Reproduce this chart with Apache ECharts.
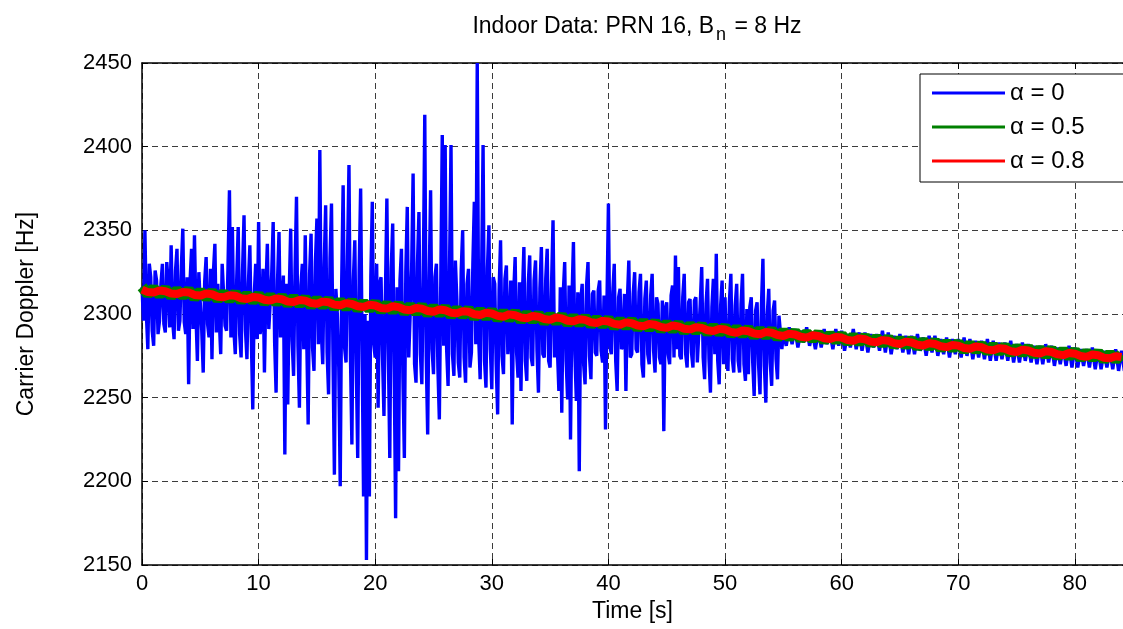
<!DOCTYPE html>
<html>
<head>
<meta charset="utf-8">
<script src="https://cdn.jsdelivr.net/npm/echarts@6/dist/echarts.min.js"></script>
<style>
html,body{margin:0;padding:0;background:#fff;}
#c{width:1123px;height:629px;}
</style>
</head>
<body>
<div id="c"></div>
<script>
// ---- data ----
const seriesNames = ['α = 0', 'α = 0.5', 'α = 0.8'];
const xTickValues = [0, 10, 20, 30, 40, 50, 60, 70, 80];
const yTickValues = [2150, 2200, 2250, 2300, 2350, 2400, 2450];

// alpha = 0, noisy part: sampled every 0.125 s from t = 0 to 54.875
const blueDenseStart = 0;
const blueDenseStep = 0.125;
const blueDenseValues = [
2316,2296,2350,2300,2279,2330,2322,2290, 2281,2326,2320,2288,2296,2318,2330,2294,
2289,2331,2318,2292,2341,2296,2285,2326, 2339,2290,2296,2328,2351,2295,2288,2322,
2258,2320,2339,2291,2347,2300,2272,2325, 2306,2290,2265,2319,2334,2294,2286,2327,
2273,2325,2342,2289,2318,2297,2276,2330, 2329,2293,2290,2328,2374,2286,2352,2291,
2276,2321,2352,2288,2274,2326,2359,2290, 2273,2318,2341,2286,2243,2311,2330,2285,
2355,2288,2294,2327,2265,2315,2342,2291, 2292,2324,2355,2283,2253,2320,2349,2286,
2285,2323,2216,2318,2246,2312,2351,2284, 2263,2326,2370,2281,2244,2317,2330,2279,
2347,2287,2234,2324,2348,2280,2266,2331, 2357,2282,2398,2290,2270,2329,2365,2277,
2252,2333,2366,2278,2204,2315,2300,2268, 2197,2318,2377,2280,2271,2334,2389,2276,
2222,2320,2344,2270,2214,2326,2375,2281, 2191,2300,2153,2296,2191,2322,2367,2282,
2274,2330,2244,2318,2322,2275,2239,2311, 2369,2279,2214,2327,2354,2270,2178,2316,
2206,2320,2339,2262,2214,2325,2364,2274, 2300,2327,2384,2270,2259,2330,2361,2276,
2258,2323,2419,2275,2228,2318,2374,2279, 2264,2322,2330,2268,2237,2320,2407,2281,
2401,2279,2257,2328,2401,2276,2263,2332, 2309,2271,2262,2326,2350,2274,2259,2318,
2327,2268,2277,2330,2367,2282,2450,2286, 2261,2324,2401,2272,2256,2327,2353,2279,
2255,2322,2318,2270,2240,2314,2344,2275, 2264,2321,2329,2276,2290,2320,2234,2312,
2334,2277,2262,2319,2254,2311,2340,2272, 2260,2318,2335,2274,2269,2320,2332,2278,
2253,2315,2340,2276,2274,2321,2339,2272, 2268,2318,2356,2274,2300,2279,2254,2316,
2241,2312,2331,2272,2249,2317,2225,2309, 2343,2276,2248,2313,2206,2308,2318,2270,
2258,2317,2331,2275,2261,2312,2314,2277, 2275,2314,2320,2278,2271,2311,2231,2306,
2366,2281,2276,2313,2330,2272,2254,2310, 2315,2279,2281,2312,2254,2308,2332,2274,
2276,2312,2325,2279,2277,2313,2324,2270, 2262,2309,2320,2276,2270,2311,2324,2278,
2265,2310,2306,2274,2270,2308,2230,2303, 2307,2276,2270,2311,2317,2274,2335,2279,
2328,2275,2273,2310,2324,2276,2268,2307, 2309,2277,2268,2308,2310,2271,2272,2306,
2328,2274,2261,2306,2321,2273,2253,2304, 2321,2276,2336,2272,2258,2305,2320,2270,
2310,2274,2266,2307,2324,2273,2265,2305, 2318,2272,2265,2306,2324,2270,2260,2303,
2264,2304,2310,2271,2251,2302,2307,2270, 2252,2305,2333,2269,2247,2300,2315,2271,
2257,2302,2308,2273,2261,2299,2298,2279
];

// alpha = 0, quiet part: sampled every 0.25 s from t = 55 to 84.25
const blueTailStart = 55;
const blueTailStep = 0.25;
const blueTailValues = [
2289,2281,2292,2282, 2291,2280,2290,2283, 2292,2281,2289,2279, 2290,2280,2291,2282,
2289,2279,2291,2281, 2290,2278,2288,2280, 2291,2279,2289,2278, 2289,2277,2288,2280,
2288,2278,2290,2277, 2289,2276,2287,2279, 2288,2277,2287,2276, 2287,2276,2288,2278,
2286,2275,2287,2277, 2287,2275,2285,2276, 2286,2274,2285,2276, 2285,2274,2286,2275,
2285,2273,2284,2274, 2284,2273,2285,2272, 2284,2272,2283,2273, 2283,2272,2284,2271,
2282,2271,2283,2272, 2282,2271,2281,2270, 2281,2270,2282,2271, 2281,2269,2280,2270,
2280,2269,2281,2268, 2280,2268,2279,2269, 2279,2268,2280,2267, 2279,2267,2278,2268,
2278,2267,2279,2266, 2278,2266
];

// alpha = 0.5 : sampled every 0.5 s from t = 0
const smoothStep = 0.5;
const greenValues = [
2316.3,2311.9, 2315.2,2311.6, 2315.0,2310.8, 2314.1,2310.9, 2314.3,2309.8, 2313.4,2309.9,
2313.2,2308.8, 2312.5,2308.6, 2312.4,2307.9, 2311.5,2307.9, 2311.4,2306.9, 2310.6,2306.8,
2310.3,2305.9, 2309.7,2305.8, 2309.4,2304.9, 2308.6,2305.0, 2308.5,2303.9, 2307.7,2303.9,
2307.5,2303.0, 2306.7,2303.0, 2306.6,2302.0, 2305.8,2301.9, 2305.6,2301.1, 2304.8,2301.0,
2304.7,2300.1, 2303.8,2300.2, 2303.7,2299.1, 2302.9,2299.2, 2302.8,2298.1, 2301.9,2298.2,
2301.8,2297.2, 2300.9,2297.3, 2300.8,2296.2, 2300.0,2296.3, 2299.8,2295.3, 2299.0,2295.4,
2298.9,2294.4, 2298.1,2294.4, 2297.9,2293.5, 2297.1,2293.5, 2297.0,2292.5, 2296.1,2292.6,
2296.0,2291.6, 2295.2,2291.6, 2295.0,2290.7, 2294.2,2290.7, 2294.1,2289.7, 2293.3,2289.8,
2293.1,2288.8, 2292.3,2288.8, 2292.2,2287.8, 2291.4,2287.9, 2291.2,2286.9, 2290.4,2286.9,
2290.3,2285.9, 2289.5,2286.0, 2289.3,2285.0, 2288.5,2285.0, 2288.4,2284.0, 2287.6,2284.1,
2287.4,2283.1, 2286.6,2283.1, 2286.5,2282.1, 2285.7,2282.2, 2285.5,2281.2, 2284.7,2281.2,
2284.6,2280.2, 2283.8,2280.3, 2283.6,2279.3, 2282.8,2279.3, 2282.7,2278.3, 2281.9,2278.4,
2281.7,2277.4, 2280.9,2277.4, 2280.8,2276.4, 2280.0,2276.5, 2279.8,2275.5, 2279.0,2275.5,
2278.9,2274.5, 2278.1,2274.6, 2277.9,2273.6, 2277.1,2273.6, 2277.0,2272.6, 2276.2,2272.7,
2276.0
];

// alpha = 0.8 : sampled every 0.5 s from t = 0
const redValues = [
2314.6,2313.1, 2312.8,2314.0, 2313.6,2312.2, 2312.0,2313.1, 2312.9,2311.4, 2311.0,2312.2,
2311.8,2310.3, 2310.0,2311.2, 2310.9,2309.4, 2309.0,2310.1, 2309.9,2308.5, 2308.0,2309.3,
2308.8,2307.4, 2307.1,2308.4, 2308.0,2306.6, 2306.1,2307.4, 2307.0,2305.6, 2305.2,2306.5,
2306.0,2304.6, 2304.2,2305.5, 2305.1,2303.6, 2303.2,2304.6, 2304.1,2302.7, 2302.3,2303.6,
2303.2,2301.8, 2301.3,2302.7, 2302.2,2300.8, 2300.4,2301.6, 2301.3,2299.9, 2299.4,2300.7,
2300.3,2298.9, 2298.4,2299.8, 2299.3,2297.9, 2297.5,2298.8, 2298.4,2297.0, 2296.5,2297.9,
2297.4,2296.0, 2295.6,2296.9, 2296.5,2295.1, 2294.6,2295.9, 2295.5,2294.1, 2293.6,2295.0,
2294.5,2293.1, 2292.7,2294.0, 2293.6,2292.2, 2291.7,2293.1, 2292.6,2291.2, 2290.8,2292.1,
2291.7,2290.3, 2289.8,2291.1, 2290.7,2289.3, 2288.8,2290.1, 2289.7,2288.3, 2287.9,2289.2,
2288.8,2287.4, 2286.9,2288.2, 2287.8,2286.4, 2285.9,2287.3, 2286.9,2285.5, 2285.0,2286.3,
2285.9,2284.5, 2284.0,2285.4, 2284.9,2283.5, 2283.1,2284.4, 2284.0,2282.6, 2282.1,2283.5,
2283.0,2281.6, 2281.2,2282.5, 2282.1,2280.7, 2280.2,2281.5, 2281.1,2279.7, 2279.2,2280.6,
2280.1,2278.7, 2278.3,2279.6, 2279.2,2277.8, 2277.3,2278.7, 2278.2,2276.8, 2276.4,2277.7,
2277.3,2275.9, 2275.4,2276.7, 2276.3,2274.9, 2274.4,2275.8, 2275.3,2273.9, 2273.5,2274.8,
2274.3
];

// ---- chart ----
const toPairs = (vals, start, step) => vals.map((v, i) => [start + i * step, v]);
const blueData = toPairs(blueDenseValues, blueDenseStart, blueDenseStep)
  .concat(toPairs(blueTailValues, blueTailStart, blueTailStep));

const FONT = '"Liberation Sans", Arial, Helvetica, sans-serif';
const chart = echarts.init(document.getElementById('c'), null, {renderer: 'canvas'});

const gridLine = {show: true, lineStyle: {color: '#3c3c3c', width: 1, type: [6, 4]}};

chart.setOption({
  animation: false,
  backgroundColor: '#fff',
  textStyle: {fontFamily: FONT},
  title: {
    text: '{a|Indoor Data: PRN 16, B}{s|n}{a| = 8 Hz}',
    left: 632,
    top: 8,
    textAlign: 'center',
    textStyle: {
      fontWeight: 'normal',
      rich: {
        a: {fontFamily: FONT, fontSize: 23, fontWeight: 'normal', color: '#000', lineHeight: 28},
        s: {fontFamily: FONT, fontSize: 18, fontWeight: 'normal', color: '#000', padding: [16, 2, 0, 2], lineHeight: 28}
      }
    }
  },
  legend: {
    data: seriesNames,
    orient: 'vertical',
    left: 920,
    top: 74,
    icon: 'rect',
    itemWidth: 73,
    itemHeight: 3,
    itemGap: 8,
    padding: [6, 40, 8, 12],
    backgroundColor: '#fff',
    borderColor: '#000',
    borderWidth: 1,
    borderRadius: 0,
    textStyle: {fontFamily: FONT, fontSize: 24, color: '#000', lineHeight: 26}
  },
  grid: {left: 142, right: 0, top: 63, bottom: 64, containLabel: false},
  xAxis: [{
    type: 'value',
    min: 0,
    max: 84.13,
    interval: 10,
    position: 'bottom',
    name: 'Time [s]',
    nameLocation: 'middle',
    nameGap: 30,
    nameTextStyle: {fontFamily: FONT, fontSize: 23, color: '#000'},
    axisLine: {show: true, onZero: false, lineStyle: {color: '#000', width: 1.5}},
    axisTick: {show: true, inside: true, length: 6, lineStyle: {color: '#000'}},
    axisLabel: {show: true, margin: 8, fontFamily: FONT, fontSize: 22, color: '#000', showMaxLabel: false,
      formatter: v => String(v)},
    splitLine: gridLine
  }, {
    type: 'value',
    min: 0,
    max: 84.13,
    interval: 10,
    position: 'top',
    axisLine: {show: true, onZero: false, lineStyle: {color: '#000', width: 1.5}},
    axisTick: {show: true, inside: true, length: 6, lineStyle: {color: '#000'}},
    axisLabel: {show: false},
    splitLine: {show: false}
  }],
  yAxis: {
    type: 'value',
    min: 2150,
    max: 2450,
    interval: 50,
    name: 'Carrier Doppler [Hz]',
    nameLocation: 'middle',
    nameGap: 104,
    nameTextStyle: {fontFamily: FONT, fontSize: 23, color: '#000'},
    axisLine: {show: true, onZero: false, lineStyle: {color: '#000', width: 1.5}},
    axisTick: {show: true, inside: true, length: 6, lineStyle: {color: '#000'}},
    axisLabel: {show: true, margin: 10, fontFamily: FONT, fontSize: 22, color: '#000',
      formatter: v => String(v)},
    splitLine: gridLine
  },
  series: [{
    name: seriesNames[0],
    type: 'line',
    data: blueData,
    showSymbol: false,
    symbol: 'none',
    sampling: null,
    color: '#0000ff',
    lineStyle: {color: '#0000ff', width: 3.4, join: 'bevel'},
    z: 2
  }, {
    name: seriesNames[1],
    type: 'line',
    data: toPairs(greenValues, 0, smoothStep),
    showSymbol: false,
    symbol: 'none',
    color: '#008000',
    lineStyle: {color: '#008000', width: 11},
    z: 3
  }, {
    name: seriesNames[2],
    type: 'line',
    data: toPairs(redValues, 0, smoothStep),
    showSymbol: false,
    symbol: 'none',
    color: '#ff0000',
    lineStyle: {color: '#ff0000', width: 8},
    z: 4
  }]
});
</script>
</body>
</html>
